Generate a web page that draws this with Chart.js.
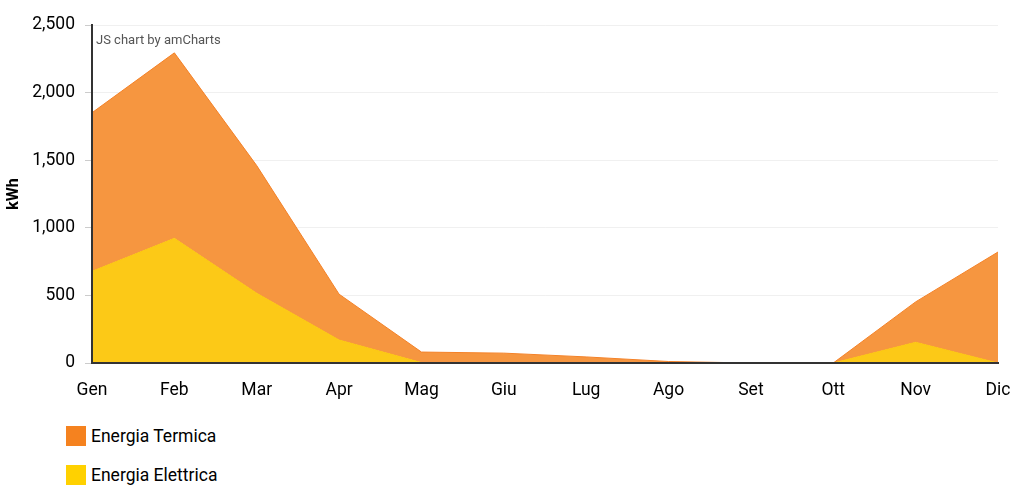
<!DOCTYPE html>
<html>
<head>
<meta charset="utf-8">
<script src="https://cdn.jsdelivr.net/npm/chart.js@4.4.1/dist/chart.umd.min.js"></script>
<style>
	body { margin: 0; background: #fff; font-family: Roboto, sans-serif; }
	#wrap { width: 1024px; height: 422px; position: relative; }
	#legend { position: absolute; left: 66px; top: 425px; }
	.item { display: flex; align-items: center; height: 22px; margin-bottom: 17px; font-size: 17.5px; color: #000; }
	.swatch { width: 20px; height: 20px; margin-right: 5px; }
</style>
</head>
<body>
<div id="wrap"><canvas id="chart"></canvas></div>
<div id="legend"></div>
<script>
const months = ["Gen", "Feb", "Mar", "Apr", "Mag", "Giu", "Lug", "Ago", "Set", "Ott", "Nov", "Dic"];
const elettrica = [678, 922, 516, 170, 3, 3, 3, 3, 0, 0, 153, 0];
const termica = [1173, 1372, 944, 339, 78, 70, 42, 8, 0, 0, 299, 821];
const yTicks = [0, 500, 1000, 1500, 2000, 2500];

const watermark = {
	id: 'watermark',
	afterDraw(chart) {
		const ctx = chart.ctx;
		ctx.save();
		ctx.font = '13px Roboto';
		ctx.fillStyle = '#555';
		ctx.textBaseline = 'middle';
		ctx.fillText('JS chart by amCharts', chart.chartArea.left + 4, chart.chartArea.top + 16);
		ctx.restore();
	}
};

const chart = new Chart(document.getElementById("chart"), {
	type: 'line',
	data: {
		labels: months,
		datasets: [{
			label: 'Energia Elettrica',
			data: elettrica,
			fill: 'origin',
			backgroundColor: 'rgba(252,199,15,0.97)',
			borderColor: 'rgba(252,199,15,1)',
			borderWidth: 1,
			pointRadius: 0,
			tension: 0,
			legendColor: '#FFD100'
		}, {
			label: 'Energia Termica',
			data: termica,
			fill: '-1',
			backgroundColor: 'rgba(246,150,64,1)',
			borderColor: 'rgba(244,130,40,1)',
			borderWidth: 1,
			pointRadius: 0,
			tension: 0,
			legendColor: '#F5821F'
		}]
	},
	options: {
		responsive: true,
		maintainAspectRatio: false,
		animation: false,
		layout: { padding: { top: 25, right: 26, left: 0, bottom: 4 } },
		plugins: { legend: { display: false }, tooltip: { enabled: false } },
		scales: {
			x: {
				offset: false,
				afterFit: (axis) => { axis.paddingRight = 0; axis.paddingLeft = 0; },
				grid: { display: false, drawTicks: false },
				border: { color: '#333', width: 2, z: 1 },
				ticks: { color: '#000', font: { family: 'Roboto', size: 17.5 }, padding: 17, maxRotation: 0, autoSkip: false }
			},
			y: {
				stacked: true,
				min: 0,
				max: 2500,
				afterBuildTicks: (axis) => { axis.ticks = yTicks.map(v => ({ value: v })); },
				afterFit: (axis) => { axis.width = 92; },
				grid: { color: 'rgba(0,0,0,0.06)', tickColor: '#ccc', tickLength: 7 },
				border: { color: '#333', width: 2, z: 1 },
				title: { display: true, text: 'kWh', color: '#000', font: { family: 'Roboto', size: 16, weight: 'bold' }, padding: { top: 4, bottom: 10 } },
				ticks: { color: '#000', font: { family: 'Roboto', size: 17.5 }, padding: 10, callback: (v) => v.toLocaleString('en-US') }
			}
		}
	},
	plugins: [watermark]
});

const legend = document.getElementById("legend");
for (const ds of chart.data.datasets.slice().reverse()) {
	legend.innerHTML += `<div class="item"><div class="swatch" style="background:${ds.legendColor}"></div>${ds.label}</div>`;
}
</script>
</body>
</html>
